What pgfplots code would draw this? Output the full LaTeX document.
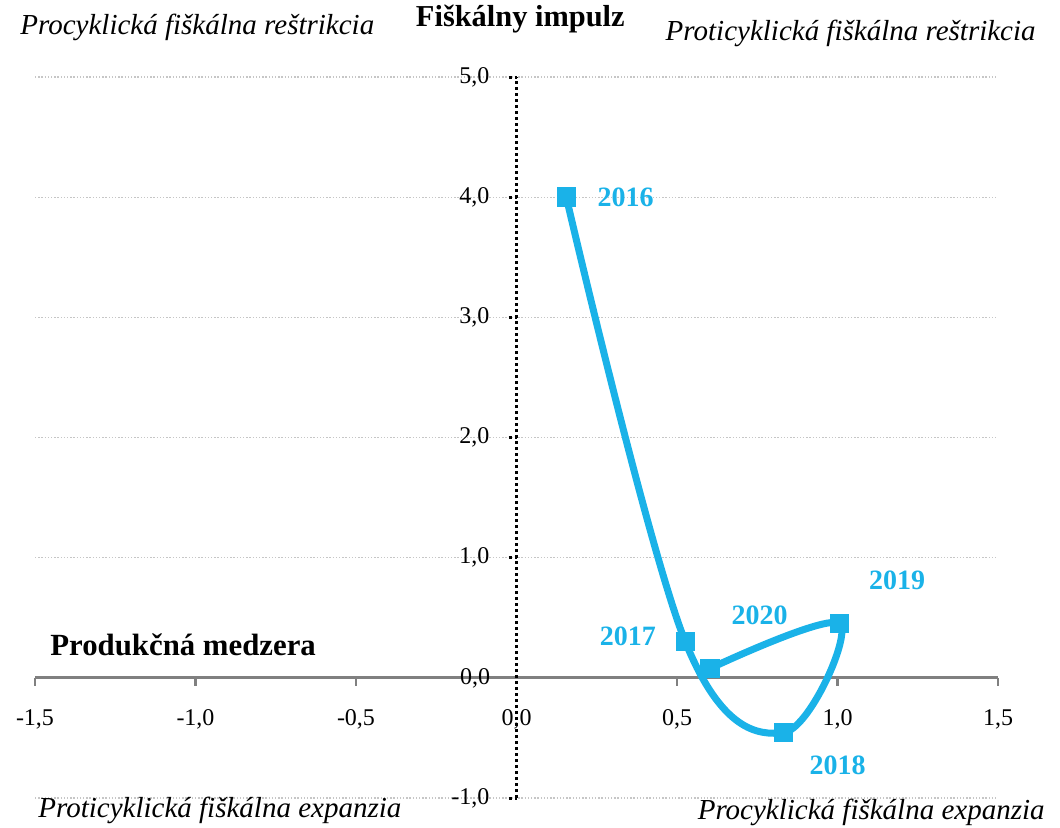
\documentclass[border=0pt]{standalone}
\usepackage{fontspec}
\setmainfont{Liberation Serif}
\usepackage{pgfplots}
\pgfplotsset{compat=1.18}
\definecolor{cy}{RGB}{26,178,232}
\begin{document}
\begin{tikzpicture}
\useasboundingbox (0,0) rectangle (530pt,413.5pt);
\begin{axis}[
 at={(17.5pt,14.5pt)}, anchor=south west,
 scale only axis, width=481.5pt, height=360.5pt,
 xmin=-1.5, xmax=1.5, ymin=-1, ymax=5,
 axis lines=middle,
 x axis line style={-, draw=gray, line width=1.5pt},
 y axis line style={-, draw=black, line width=1.5pt, dash pattern=on 1.5pt off 1.5pt},
 xtick={-1.5,-1,...,1.5}, ytick={-1,0,...,5},
 tick align=outside,
 major tick length=4pt,
 xtick style={draw=gray, line width=1.2pt},
 ytick style={draw=black, line width=1.5pt, dash pattern=on 1.5pt off 1.5pt},
 ymajorgrids,
 grid style={draw=gray!45, line width=0.6pt, dash pattern=on 0.7pt off 0.9pt},
 /pgf/number format/use comma,
 /pgf/number format/fixed,
 /pgf/number format/fixed zerofill,
 /pgf/number format/precision=1,
 /pgf/number format/assume math mode=true,
 ticklabel style={font=\fontsize{12}{12}\selectfont},
 xticklabel style={yshift=-8.5pt},
 yticklabel style={xshift=-6pt},
 clip=false,
]
\addplot[cy, line width=3.5pt, smooth, tension=0.6, mark=square*, mark size=4.6pt,
  mark options={solid, fill=cy, draw=cy, line width=0pt}]
  coordinates {(0.155,4.0) (0.526,0.30) (0.832,-0.456) (1.007,0.45) (0.603,0.078)};
\node[cy, font=\bfseries\fontsize{14}{14}\selectfont] at (axis cs:0.34,4.0) {2016};
\node[cy, font=\bfseries\fontsize{14}{14}\selectfont] at (axis cs:0.347,0.344) {2017};
\node[cy, font=\bfseries\fontsize{14}{14}\selectfont] at (axis cs:1.0,-0.73) {2018};
\node[cy, font=\bfseries\fontsize{14}{14}\selectfont] at (axis cs:1.186,0.81) {2019};
\node[cy, font=\bfseries\fontsize{14}{14}\selectfont] at (axis cs:0.757,0.52) {2020};
\node[anchor=base, inner sep=0pt, font=\fontsize{12}{12}\selectfont, yshift=-23.75pt] at (axis cs:0,0) {0,0};
\node[anchor=base east, inner sep=0pt, font=\fontsize{12}{12}\selectfont, xshift=-13pt, yshift=-3.25pt] at (axis cs:0,0) {0,0};
\end{axis}
\node[anchor=west, inner sep=0pt, font=\itshape\fontsize{14.5}{14.5}\selectfont] at (10pt,400pt) {Procyklická fiškálna reštrikcia};
\node[anchor=east, inner sep=0pt, font=\bfseries\fontsize{15.2}{15.2}\selectfont] at (312.5pt,404pt) {Fiškálny impulz};
\node[anchor=east, inner sep=0pt, font=\itshape\fontsize{14.5}{14.5}\selectfont] at (518pt,397pt) {Proticyklická fiškálna reštrikcia};
\node[anchor=west, inner sep=0pt, font=\bfseries\fontsize{15.4}{15.4}\selectfont] at (25pt,91pt) {Produkčná medzera};
\node[anchor=west, inner sep=0pt, font=\itshape\fontsize{14.5}{14.5}\selectfont] at (19pt,8.5pt) {Proticyklická fiškálna expanzia};
\node[anchor=east, inner sep=0pt, font=\itshape\fontsize{14.5}{14.5}\selectfont] at (522.5pt,7.5pt) {Procyklická fiškálna expanzia};
\end{tikzpicture}
\end{document}
